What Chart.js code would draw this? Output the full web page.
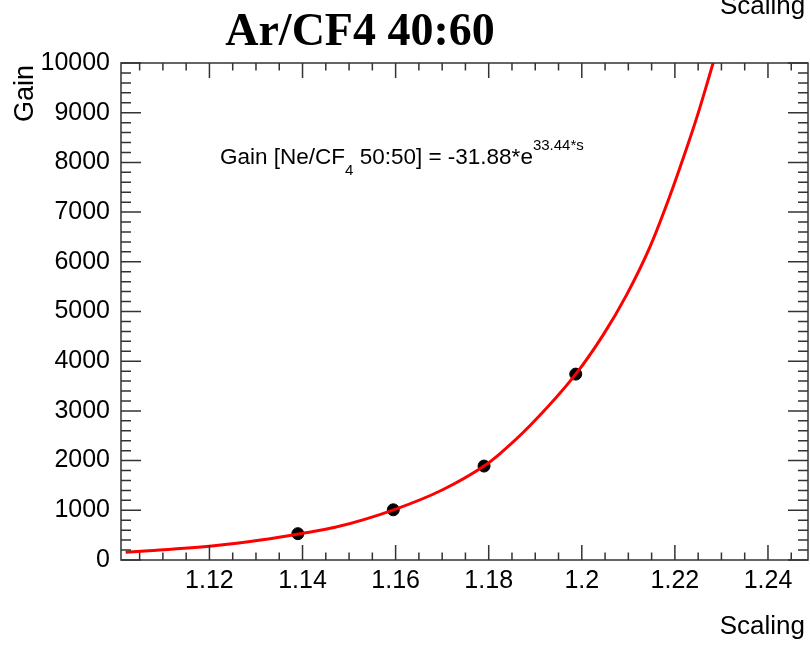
<!DOCTYPE html>
<html>
<head>
<meta charset="utf-8">
<script src="https://cdn.jsdelivr.net/npm/chart.js@4.4.0/dist/chart.umd.min.js"></script>
<style>
  html,body{margin:0;padding:0;background:#fff;}
  #wrap{width:810px;height:646px;position:relative;}
</style>
</head>
<body>
<div id="wrap"><canvas id="gainChart" width="810" height="646"></canvas></div>
<script>
// measured points
const pointScaling = [1.139, 1.1595, 1.179, 1.1987];
const pointGain = [530, 1010, 1890, 3740];

// fit curve
const fitScaling = [1.102, 1.107, 1.121, 1.131, 1.1395, 1.147, 1.1596, 1.170, 1.179, 1.1825, 1.189, 1.1987, 1.2046, 1.2096, 1.2146, 1.2189, 1.2225, 1.2247, 1.2268, 1.2290];
const fitGain = [158, 187, 288, 402, 530, 658, 1010, 1408, 1890, 2147, 2716, 3740, 4530, 5330, 6290, 7320, 8280, 8900, 9550, 10250];

const xTickValues = [1.12, 1.14, 1.16, 1.18, 1.2, 1.22, 1.24];
const yTickValues = [0, 1000, 2000, 3000, 4000, 5000, 6000, 7000, 8000, 9000, 10000];

const xMin = 1.101, xMax = 1.2486;
const yMin = 0, yMax = 10000;

const FONT = "'Liberation Sans', Arial, Helvetica, sans-serif";

const rootFrame = {
  id: 'rootFrame',
  afterDatasetsDraw(chart){
    const {ctx, chartArea: a, scales: {x, y}} = chart;
    ctx.save();
    ctx.strokeStyle = '#333';
    ctx.lineWidth = 1.5;
    ctx.strokeRect(a.left, a.top, a.right - a.left, a.bottom - a.top);
    ctx.beginPath();
    // x ticks, minor every 0.005
    for (let k = 220; k <= 250; k++){
      const v = k * 0.005;
      if (v < xMin || v > xMax) continue;
      const px = x.getPixelForValue(v);
      const len = (k % 4 === 0) ? 15 : 7.5;
      ctx.moveTo(px, a.bottom); ctx.lineTo(px, a.bottom - len);
      ctx.moveTo(px, a.top); ctx.lineTo(px, a.top + len);
    }
    // y ticks, minor every 200
    for (let k = 0; k <= 50; k++){
      const py = y.getPixelForValue(k * 200);
      const len = (k % 5 === 0) ? 20 : 10;
      ctx.moveTo(a.left, py); ctx.lineTo(a.left + len, py);
      ctx.moveTo(a.right, py); ctx.lineTo(a.right - len, py);
    }
    ctx.stroke();
    ctx.restore();
  },
  afterDraw(chart){
    const ctx = chart.ctx;
    ctx.save();
    ctx.fillStyle = '#000';
    // title
    ctx.font = "bold 46px 'Liberation Serif', 'Times New Roman', serif";
    ctx.textAlign = 'center';
    ctx.textBaseline = 'alphabetic';
    ctx.fillText('Ar/CF4 40:60', 360, 45);
    // stray axis title at top right
    ctx.font = '26px ' + FONT;
    ctx.textAlign = 'left';
    ctx.fillText('Scaling', 720, 14);
    // x title
    ctx.textAlign = 'right';
    ctx.fillText('Scaling', 805, 634);
    // y title
    ctx.save();
    ctx.translate(33, 65);
    ctx.rotate(-Math.PI / 2);
    ctx.textAlign = 'right';
    ctx.font = '27px ' + FONT;
    ctx.fillText('Gain', 0, 0);
    ctx.restore();
    // fit formula
    ctx.textAlign = 'left';
    let tx = 220;
    const base = 164;
    ctx.font = '22.5px ' + FONT;
    ctx.fillText('Gain [Ne/CF', tx, base);
    tx += ctx.measureText('Gain [Ne/CF').width;
    ctx.font = '15px ' + FONT;
    ctx.fillText('4', tx, base + 11);
    tx += ctx.measureText('4').width;
    ctx.font = '22.5px ' + FONT;
    ctx.fillText(' 50:50] = -31.88*e', tx, base);
    tx += ctx.measureText(' 50:50] = -31.88*e').width;
    ctx.font = '15px ' + FONT;
    ctx.fillText('33.44*s', tx, base - 14);
    ctx.restore();
  }
};

new Chart(document.getElementById('gainChart').getContext('2d'), {
  type: 'scatter',
  data: {
    datasets: [
      {
        label: 'fit',
        type: 'line',
        data: fitScaling.map((s, i) => ({x: s, y: fitGain[i]})),
        borderColor: '#ff0000',
        borderWidth: 3,
        pointRadius: 0,
        cubicInterpolationMode: 'monotone',
        fill: false
      },
      {
        label: 'gain',
        data: pointScaling.map((s, i) => ({x: s, y: pointGain[i]})),
        backgroundColor: '#000',
        borderColor: '#000',
        pointRadius: 6
      }
    ]
  },
  options: {
    responsive: false,
    devicePixelRatio: 1,
    animation: false,
    layout: {autoPadding: false, padding: {top: 63, right: 2, left: 0, bottom: 0}},
    plugins: {legend: {display: false}, tooltip: {enabled: false}},
    scales: {
      x: {
        type: 'linear',
        min: xMin, max: xMax,
        grid: {display: false, drawTicks: false},
        border: {display: false},
        afterBuildTicks: s => { s.ticks = xTickValues.map(v => ({value: v})); },
        afterFit: s => { s.height = 86; s.paddingLeft = 0; s.paddingRight = 0; },
        ticks: {
          padding: 6,
          color: '#000',
          font: {family: FONT, size: 25},
          maxRotation: 0,
          autoSkip: false,
          callback: v => String(Math.round(v * 100) / 100)
        }
      },
      y: {
        min: yMin, max: yMax,
        grid: {display: false, drawTicks: false},
        border: {display: false},
        afterBuildTicks: s => { s.ticks = yTickValues.map(v => ({value: v})); },
        afterFit: s => { s.width = 121; s.paddingTop = 0; s.paddingBottom = 0; },
        ticks: {
          padding: 11,
          color: '#000',
          font: {family: FONT, size: 25},
          autoSkip: false,
          callback: v => String(v)
        }
      }
    }
  },
  plugins: [rootFrame]
});
</script>
</body>
</html>
